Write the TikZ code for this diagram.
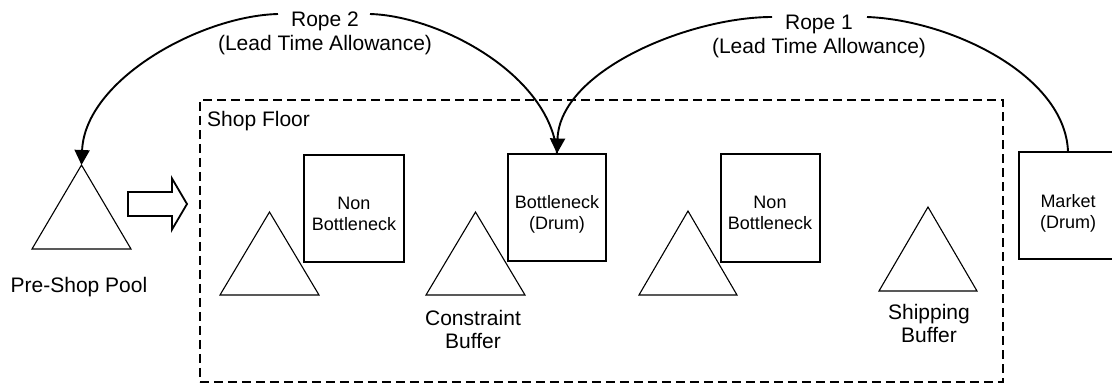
\documentclass[tikz,border=0pt]{standalone}
\usepackage{fontspec}
\setmainfont{Liberation Sans}
\usetikzlibrary{arrows.meta}
\tikzset{
  tri/.style={draw, line width=1.1pt, line join=miter},
  procbox/.style={draw, line width=1.1pt, inner sep=0pt, fill=white},
  shop/.style={draw, line width=1.8pt, dash pattern=on 9pt off 5pt, inner sep=0pt},
  rope/.style={line width=1.9pt},
  ropetip/.style={rope, -{Triangle[length=15pt,width=15pt]}},
  lbl/.style={font=\fontsize{21}{23.5}\selectfont, inner sep=0pt, align=center, anchor=base},
  boxlbl/.style={font=\fontsize{18}{21}\selectfont, inner sep=0pt, align=center, anchor=base},
  blockarrow/.style={draw, line width=1.8pt, line join=miter, fill=white}
}
\begin{document}
\begin{tikzpicture}[x=1pt, y=-1pt]
\useasboundingbox (0,0) rectangle (1112,383);

% shop floor
\node[shop, anchor=north west, minimum width=803pt, minimum height=282pt] (shop) at (199,99) {};
\node[lbl, anchor=base west] (shoplbl) at (207,126) {Shop Floor};

% triangles (buffers)
\coordinate (pool) at (81.5,165);
\draw[tri] (pool) -- (131,249) -- (32,249) -- cycle;
\coordinate (t1) at (269.5,212);
\draw[tri] (t1) -- (319,295) -- (220,295) -- cycle;
\coordinate (t2) at (475.5,212);
\draw[tri] (t2) -- (525,295) -- (426,295) -- cycle;
\coordinate (t3) at (688,211);
\draw[tri] (t3) -- (737,295) -- (639,295) -- cycle;
\coordinate (t4) at (928,207);
\draw[tri] (t4) -- (977,291) -- (879,291) -- cycle;

% block arrow into shop floor
\coordinate (ba) at (128,204);
\draw[blockarrow] (ba) ++(0,-12) -- (172,192) -- (172,178.5) -- (187,204) -- (172,229.5) -- (172,216) -- (128,216) -- cycle;

% boxes
\node[procbox, minimum width=100pt, minimum height=107pt] (nb1) at (354,208.5) {};
\node[procbox, minimum width=98pt, minimum height=107pt] (bn) at (557,207.5) {};
\node[procbox, minimum width=99pt, minimum height=108pt] (nb2) at (770.5,208) {};
\node[procbox, minimum width=98pt, minimum height=107pt] (mk) at (1068,205.5) {};

\node[boxlbl] (nb1t) at (354,230) {Non\\Bottleneck};
\node[boxlbl] (bnt) at (557,229) {Bottleneck\\(Drum)};
\node[boxlbl] (nb2t) at (770,229) {Non\\Bottleneck};
\node[boxlbl] (mkt) at (1068,228) {Market\\(Drum)};

% labels
\node[lbl] (poollbl) at (79,292) {Pre-Shop Pool};
\node[lbl] (cblbl) at (473,348.5) {Constraint\\Buffer};
\node[lbl] (sblbl) at (929,342.5) {Shipping\\Buffer};
\node[lbl] (r2lbl) at (325,50) {Rope 2\\(Lead Time Allowance)};
\node[lbl] (r1lbl) at (819,53) {Rope 1\\(Lead Time Allowance)};

% ropes
\coordinate (r1r) at (867,17);
\coordinate (r1l) at (772,17);
\coordinate (r2r) at (370,14);
\coordinate (r2l) at (278,14);
\draw[rope] (mk.north) .. controls (1065,75) and (950,20) .. (r1r);
\draw[ropetip] (r1l) .. controls (690,17) and (560,70) .. (bn.north);
\draw[rope] (bn.north) .. controls (550,75) and (440,16) .. (r2r);
\draw[ropetip] (r2l) .. controls (200,16) and (85,80) .. (pool);
\end{tikzpicture}
\end{document}
